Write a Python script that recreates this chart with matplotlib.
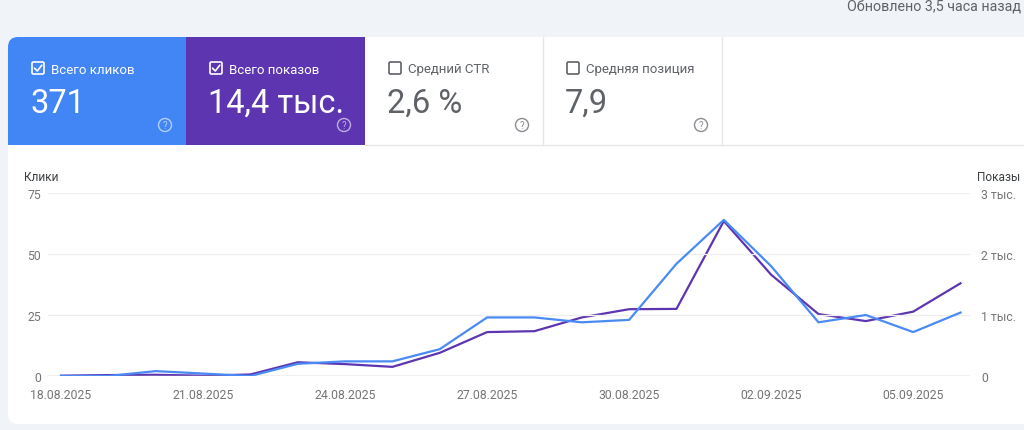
import numpy as np
import pandas as pd
import matplotlib
matplotlib.use("Agg")
import matplotlib.pyplot as plt
from matplotlib.patches import FancyBboxPatch, Rectangle, Circle

plt.rcParams['font.family'] = ['Roboto', 'DejaVu Sans']

# data
dates = pd.date_range('2025-08-18', periods=20, freq='D')
clicks = [0, 0, 2, 1, 0, 5, 6, 6, 11, 24, 24, 22, 23, 46, 64, 45, 22, 25, 18, 26]
impressions = [5, 15, 20, 5, 25, 225, 195, 150, 380, 720, 735, 960, 1095, 1100,
               2540, 1660, 1015, 900, 1055, 1520]
click_ticks = [0, 25, 50, 75]
impr_ticks = [0, 1000, 2000, 3000]
impr_labels = ['0', '1 тыс.', '2 тыс.', '3 тыс.']

card_titles = ['Всего кликов', 'Всего показов', 'Средний CTR', 'Средняя позиция']
card_values = ['371', '14,4 тыс.', '2,6 %', '7,9']
card_checked = [True, True, False, False]
card_colors = ['#4285f4', '#5e35b1', 'white', 'white']

BLUE = '#4a8af4'
PURPLE = '#5e35b1'
GREY = '#5f6368'

W, H = 1024, 431
fig = plt.figure(figsize=(W / 100, H / 100), dpi=100)
fig.patch.set_facecolor('#f0f3f8')

# background layer in pixel coordinates
bg = fig.add_axes([0, 0, 1, 1])
bg.set_xlim(0, W)
bg.set_ylim(H, 0)
bg.axis('off')

card = FancyBboxPatch((8, 38), 1040, 387, boxstyle='round,pad=0,rounding_size=10',
                      fc='white', ec='none')
bg.add_patch(card)

bg.text(1021, 7, 'Обновлено 3,5 часа назад', ha='right', va='center',
        fontsize=10.3, color=GREY)

card_x = [8, 186, 365, 543, 722]
for i in range(4):
    x0, x1 = card_x[i], card_x[i + 1]
    r = Rectangle((x0, 38), x1 - x0, 108, fc=card_colors[i], ec='none')
    bg.add_patch(r)
    r.set_clip_path(card)
    dark = card_colors[i] != 'white'
    fg = 'white' if dark else GREY
    # checkbox
    bg.add_patch(FancyBboxPatch((x0 + 24, 63), 12, 12,
                                boxstyle='round,pad=0,rounding_size=1.5',
                                fc='none', ec=fg, lw=1.2))
    if card_checked[i]:
        bg.plot([x0 + 26.5, x0 + 29.3, x0 + 33.8], [69.2, 72, 66.2],
                color=fg, lw=1.2, solid_capstyle='round')
    bg.text(x0 + 43, 70, card_titles[i], fontsize=9.5, color=fg, va='center')
    bg.text(x0 + 22, 104, card_values[i], fontsize=23.5, color=fg, va='center')
    # help icon
    hc = (1, 1, 1, 0.6) if dark else '#8a8d91'
    bg.add_patch(Circle((x1 - 21, 126), 6.5, fc='none', ec=hc, lw=1))
    bg.text(x1 - 21, 126.5, '?', fontsize=7, color=hc, ha='center', va='center')
    if not dark:
        bg.plot([x1, x1], [38, 146], color='#e6e6e6', lw=1)
bg.plot([365, 1024], [146, 146], color='#e6e6e6', lw=1)

# chart area
x_left, x_right, y_top, y_zero = 48, 970, 194, 377
ax = fig.add_axes([x_left / W, 1 - y_zero / H, (x_right - x_left) / W,
                   (y_zero - y_top) / H])
ax.patch.set_alpha(0)
ax2 = ax.twinx()

idx = np.arange(len(dates))
ax2.plot(idx, impressions, color=PURPLE, lw=1.6, zorder=2)
ax.plot(idx, clicks, color=BLUE, lw=1.6, zorder=3)
ax.set_zorder(ax2.get_zorder() + 1)

ax.set_xlim(-0.275, 19.2)
ax.set_ylim(0, 75)
ax2.set_ylim(0, 3000)

ax.set_yticks(click_ticks)
ax.set_yticklabels([str(t) for t in click_ticks])
ax2.set_yticks(impr_ticks)
ax2.set_yticklabels(impr_labels)

xt = idx[::3]
ax.set_xticks(xt)
ax.set_xticklabels([dates[i].strftime('%d.%m.%Y') for i in xt])

for a in (ax, ax2):
    for s in a.spines.values():
        s.set_visible(False)
    a.tick_params(length=0, labelsize=8.8, labelcolor='#757575')
ax.tick_params(axis='y', pad=5)
ax2.tick_params(axis='y', pad=8)
ax.tick_params(axis='x', pad=9)
ax.grid(axis='y', color='#eeeeee', lw=0.9)
ax.set_axisbelow(True)
ax.axhline(0, color='#9e9e9e', lw=0.9, zorder=1)

bg.text(24, 178, 'Клики', fontsize=8.6, color='#3c4043', va='center')
bg.text(1020, 178, 'Показы', fontsize=8.6, color='#3c4043', va='center', ha='right')

fig.savefig('out.png', dpi=100)
